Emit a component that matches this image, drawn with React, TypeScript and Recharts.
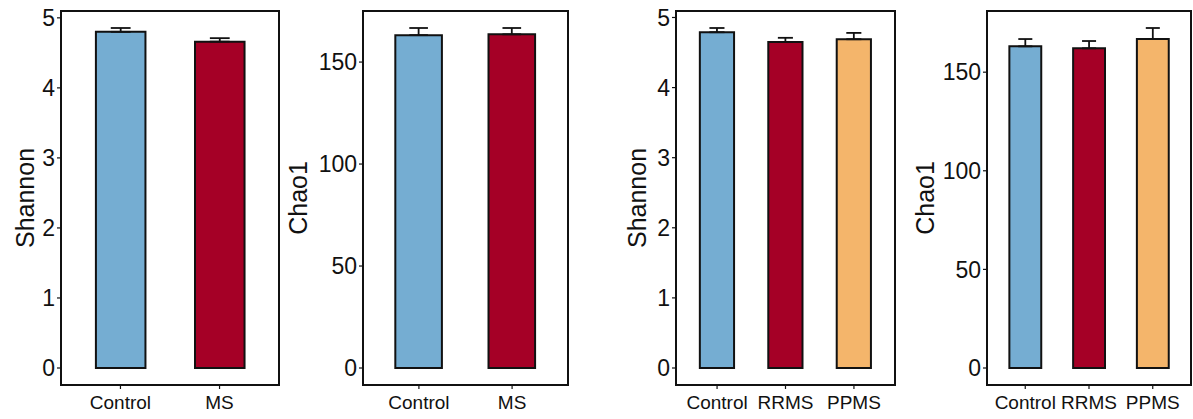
import React from "react";
import { BarChart, Bar, XAxis, YAxis, ErrorBar, Cell } from "recharts";

// group names
const groupsMS = ["Control", "MS"];
const groupsSub = ["Control", "RRMS", "PPMS"];

// Shannon / Chao1, Control vs MS
const shannonMS = [4.8, 4.66];
const shannonMSErr = [0.055, 0.05];
const chaoMS = [163.2, 163.6];
const chaoMSErr = [3.5, 3.1];

// Shannon / Chao1, Control vs RRMS vs PPMS
const shannonSub = [4.79, 4.65, 4.69];
const shannonSubErr = [0.06, 0.06, 0.09];
const chaoSub = [163.1, 162.1, 166.8];
const chaoSubErr = [3.7, 3.7, 5.6];

const shannonTicks = [0, 1, 2, 3, 4, 5];
const chaoTicks = [0, 50, 100, 150];

const colors: Record<string, string> = {
  Control: "#75add2",
  MS: "#a50026",
  RRMS: "#a50026",
  PPMS: "#f4b56b",
};

const FONT = "'Liberation Sans', Arial, Helvetica, sans-serif";
const INK = "#111";
const H = 419;
const TOP = 11;
const XAXIS_H = 34;

type PanelProps = {
  groups: string[];
  values: number[];
  errs: number[];
  ticks: number[];
  title: string;
  left: number;
  width: number;
  axisWidth: number;
  marginRight: number;
  titleX: number;
  capRatio: number;
};

function Panel({
  groups,
  values,
  errs,
  ticks,
  title,
  left,
  width,
  axisWidth,
  marginRight,
  titleX,
  capRatio,
}: PanelProps) {
  const data = groups.map((g, i) => ({
    name: g,
    value: values[i],
    err: [0, errs[i]],
  }));
  const top = Math.max(...values.map((v, i) => v + errs[i]));
  const domain = [-0.05 * top, top * 1.05];

  // ggplot-like discrete spacing
  const plotW = width - axisWidth - marginRight;
  const plotH = H - TOP - XAXIS_H;
  const unit = plotW / (groups.length + 0.2);
  const pad = unit * 0.1;
  const barSize = unit * 0.5;

  return (
    <div style={{ position: "absolute", left, top: 0, width, height: H }}>
      <BarChart
        width={width}
        height={H}
        data={data}
        margin={{ top: TOP, right: marginRight, left: 0, bottom: 0 }}
        style={{ fontFamily: FONT }}
      >
        <XAxis
          dataKey="name"
          height={XAXIS_H}
          padding={{ left: pad, right: pad }}
          tickSize={4}
          tickMargin={7}
          tick={{ fontSize: 19, fill: INK }}
          axisLine={{ stroke: INK, strokeWidth: 2 }}
          tickLine={{ stroke: INK, strokeWidth: 1.2 }}
        />
        <YAxis
          width={axisWidth}
          domain={domain}
          ticks={ticks}
          allowDataOverflow
          tickSize={4}
          tickMargin={2}
          tick={{ fontSize: 23, fill: INK }}
          axisLine={{ stroke: INK, strokeWidth: 2 }}
          tickLine={{ stroke: INK, strokeWidth: 1.2 }}
          label={{
            value: title,
            angle: -90,
            position: "insideLeft",
            offset: titleX - left,
            style: { textAnchor: "middle", fontSize: 25, fill: INK },
          }}
        />
        <Bar
          dataKey="value"
          barSize={barSize}
          stroke={INK}
          strokeWidth={2}
          isAnimationActive={false}
        >
          {data.map((d) => (
            <Cell key={d.name} fill={colors[d.name]} />
          ))}
          <ErrorBar
            dataKey="err"
            direction="y"
            width={barSize * capRatio}
            stroke={INK}
            strokeWidth={1.8}
            isAnimationActive={false}
          />
        </Bar>
      </BarChart>
      {/* panel border */}
      <div
        style={{
          position: "absolute",
          left: axisWidth - 1,
          top: TOP - 1,
          width: plotW + 2,
          height: plotH + 2,
          border: `2px solid ${INK}`,
          boxSizing: "border-box",
          pointerEvents: "none",
        }}
      />
    </div>
  );
}

export default function App() {
  return (
    <div
      style={{
        position: "fixed",
        left: 0,
        top: 0,
        width: 1193,
        height: H,
        background: "#fff",
      }}
    >
      <Panel
        groups={groupsMS}
        values={shannonMS}
        errs={shannonMSErr}
        ticks={shannonTicks}
        title="Shannon"
        left={0}
        width={290}
        axisWidth={61}
        marginRight={11}
        titleX={25}
        capRatio={0.2}
      />
      <Panel
        groups={groupsMS}
        values={chaoMS}
        errs={chaoMSErr}
        ticks={chaoTicks}
        title="Chao1"
        left={285}
        width={290}
        axisWidth={78}
        marginRight={7}
        titleX={298}
        capRatio={0.2}
      />
      <Panel
        groups={groupsSub}
        values={shannonSub}
        errs={shannonSubErr}
        ticks={shannonTicks}
        title="Shannon"
        left={600}
        width={300}
        axisWidth={76}
        marginRight={5}
        titleX={637}
        capRatio={0.22}
      />
      <Panel
        groups={groupsSub}
        values={chaoSub}
        errs={chaoSubErr}
        ticks={chaoTicks}
        title="Chao1"
        left={905}
        width={288}
        axisWidth={82}
        marginRight={2}
        titleX={925}
        capRatio={0.22}
      />
    </div>
  );
}
